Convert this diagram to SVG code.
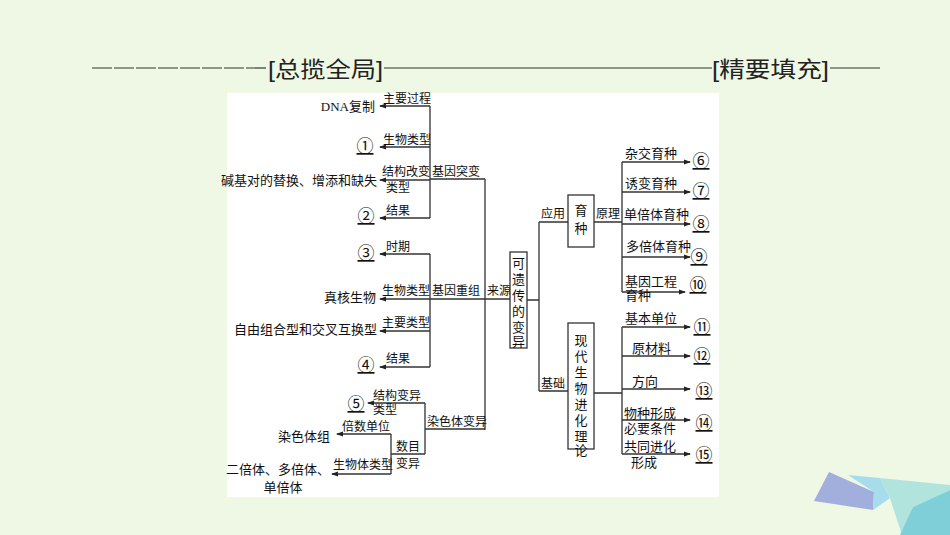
<svg xmlns="http://www.w3.org/2000/svg" width="950" height="535" viewBox="0 0 950 535">
<defs>
<marker id="a" markerWidth="7" markerHeight="6" refX="6" refY="3" orient="auto" markerUnits="userSpaceOnUse"><path d="M0,0.5 L7,3 L0,5.5 z" fill="#222"/></marker>
<style>
text{font-family:"Liberation Serif","Noto Sans CJK SC",serif;fill:#111;font-size:13px}
.s{font-size:12px}
.c{font-size:17px;text-decoration:underline}
.l{stroke:#333;stroke-width:1.3;fill:none}
.ar{stroke:#333;stroke-width:1.3;fill:none;marker-end:url(#a)}
.b{fill:#fff;stroke:#333;stroke-width:1.3}
.t{font-family:"Liberation Sans","Noto Sans CJK SC",sans-serif;font-size:22px;fill:#222}
</style>
</defs>
<rect width="950" height="535" fill="#eef8e4"/>
<g id="deco">
<polygon points="829,472 814,501 873,510 874,492" fill="#a2aedc"/>
<polygon points="848,475 874,492 873,510 890,498 880,478" fill="#a6dcec"/>
<polygon points="880,478 920,482 950,485 950,490 913,507 902,535 890,498" fill="#b2e4de"/>
<polygon points="913,507 950,490 950,535 900,535" fill="#7fcfd8"/>
</g>
<g id="title">
<line x1="92" y1="68" x2="268" y2="68" stroke="#333" stroke-width="1.2" stroke-dasharray="20,2"/>
<text class="t" x="268" y="77" textLength="115" lengthAdjust="spacingAndGlyphs">[总揽全局]</text>
<line x1="384" y1="68" x2="712" y2="68" stroke="#333" stroke-width="1.2"/>
<text class="t" x="712" y="77" textLength="117" lengthAdjust="spacingAndGlyphs">[精要填充]</text>
<line x1="830" y1="68" x2="880" y2="68" stroke="#333" stroke-width="1.2"/>
</g>
<rect x="227" y="93" width="492" height="404" fill="#fff"/>
<g id="connectors">
<path class="l" d="M430,106 V218 M430,179 H485 M485,179 V430 M485,299 H510 M430,254 V367 M430,299 H485 M425,403 V454 M425,429 H485 M391,434 V474 M391,454 H425 M527,300 H539 M539,222 V391 M539,222 H568 M539,391 H568 M594,222 H622 M622,162 V292 M594,393 H622 M622,327 V454"/>
<path class="ar" d="M430,106 H380"/><path class="ar" d="M430,147 H380"/><path class="ar" d="M430,180 H380"/><path class="ar" d="M430,218 H380"/>
<path class="ar" d="M430,254 H380"/><path class="ar" d="M430,299 H380"/><path class="ar" d="M430,331 H380"/><path class="ar" d="M430,367 H380"/>
<path class="ar" d="M425,403 H368"/><path class="ar" d="M391,434 H337"/><path class="ar" d="M391,474 H332"/>
<path class="ar" d="M622,162 H690"/><path class="ar" d="M622,192 H690"/><path class="ar" d="M622,224 H690"/><path class="ar" d="M622,257 H690"/><path class="ar" d="M622,292 H685"/>
<path class="ar" d="M622,327 H690"/><path class="ar" d="M622,356 H690"/><path class="ar" d="M622,389 H690"/><path class="ar" d="M622,420 H690"/><path class="ar" d="M622,454 H690"/>
</g>
<g id="n-mut">
<text class="s" x="383" y="103">主要过程</text>
<text x="375" y="111" text-anchor="end">DNA复制</text>
<text class="s" x="383" y="144">生物类型</text>
<text class="c" x="365" y="152" text-anchor="middle">①</text>
<text class="s" x="382" y="176">结构改变</text>
<text class="s" x="386" y="192">类型</text>
<text x="377" y="185" text-anchor="end">碱基对的替换、增添和缺失</text>
<text class="s" x="386" y="215">结果</text>
<text class="c" x="366" y="222" text-anchor="middle">②</text>
<text class="s" x="432" y="176">基因突变</text>
</g>
<g id="n-rec">
<text class="s" x="386" y="251">时期</text>
<text class="c" x="366" y="259" text-anchor="middle">③</text>
<text class="s" x="382" y="295">生物类型</text>
<text x="376" y="302" text-anchor="end">真核生物</text>
<text class="s" x="432" y="295">基因重组</text>
<text class="s" x="487" y="295">来源</text>
<text class="s" x="382" y="327">主要类型</text>
<text x="377" y="334" text-anchor="end">自由组合型和交叉互换型</text>
<text class="s" x="386" y="363">结果</text>
<text class="c" x="366" y="371" text-anchor="middle">④</text>
</g>
<g id="n-chr">
<text class="s" x="373" y="400">结构变异</text>
<text class="s" x="373" y="414">类型</text>
<text class="c" x="356" y="410" text-anchor="middle">⑤</text>
<text class="s" x="427" y="426">染色体变异</text>
<text class="s" x="342" y="431">倍数单位</text>
<text x="330" y="441" text-anchor="end">染色体组</text>
<text class="s" x="396" y="451">数目</text>
<text class="s" x="396" y="468">变异</text>
<text class="s" x="333" y="469">生物体类型</text>
<text x="330" y="474" text-anchor="end">二倍体、多倍体、</text>
<text x="283" y="492" text-anchor="middle">单倍体</text>
</g>
<g id="n-main">
<rect class="b" x="510" y="252" width="17" height="96"/>
<text x="518.5" y="268" text-anchor="middle">可</text>
<text x="518.5" y="284" text-anchor="middle">遗</text>
<text x="518.5" y="300" text-anchor="middle">传</text>
<text x="518.5" y="316" text-anchor="middle">的</text>
<text x="518.5" y="332" text-anchor="middle">变</text>
<text x="518.5" y="346" text-anchor="middle">异</text>
<text class="s" x="541" y="218">应用</text>
<text class="s" x="541" y="388">基础</text>
</g>
<g id="n-breed">
<rect class="b" x="568" y="195" width="26" height="52"/>
<text x="581" y="215" text-anchor="middle">育</text>
<text x="581" y="233" text-anchor="middle">种</text>
<text class="s" x="596" y="218">原理</text>
<text x="625" y="158">杂交育种</text>
<text x="625" y="188">诱变育种</text>
<text x="624" y="219">单倍体育种</text>
<text x="626" y="251">多倍体育种</text>
<text x="625" y="286">基因工程</text>
<text x="625" y="300">育种</text>
<text class="c" x="701" y="167" text-anchor="middle">⑥</text>
<text class="c" x="701" y="197" text-anchor="middle">⑦</text>
<text class="c" x="701" y="230" text-anchor="middle">⑧</text>
<text class="c" x="699" y="263" text-anchor="middle">⑨</text>
<text class="c" x="698" y="291" text-anchor="middle">⑩</text>
</g>
<g id="n-evo">
<rect class="b" x="568" y="323" width="26" height="126"/>
<text x="581" y="345" text-anchor="middle">现</text>
<text x="581" y="361" text-anchor="middle">代</text>
<text x="581" y="377" text-anchor="middle">生</text>
<text x="581" y="393" text-anchor="middle">物</text>
<text x="581" y="409" text-anchor="middle">进</text>
<text x="581" y="425" text-anchor="middle">化</text>
<text x="581" y="441" text-anchor="middle">理</text>
<text x="581" y="455" text-anchor="middle">论</text>
<text x="625" y="323">基本单位</text>
<text x="632" y="353">原材料</text>
<text x="632" y="386">方向</text>
<text x="624" y="418">物种形成</text>
<text x="624" y="433">必要条件</text>
<text x="624" y="451">共同进化</text>
<text x="631" y="467">形成</text>
<text class="c" x="702" y="333" text-anchor="middle">⑪</text>
<text class="c" x="702" y="362" text-anchor="middle">⑫</text>
<text class="c" x="704" y="397" text-anchor="middle">⑬</text>
<text class="c" x="704" y="429" text-anchor="middle">⑭</text>
<text class="c" x="704" y="461" text-anchor="middle">⑮</text>
</g>
</svg>
